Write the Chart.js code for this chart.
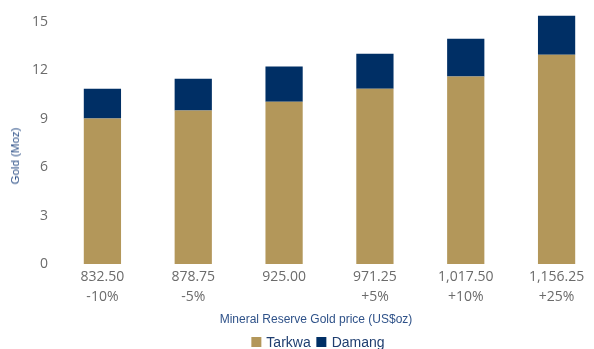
<!DOCTYPE html>
<html>
<head>
<meta charset="utf-8">
<script src="https://cdn.jsdelivr.net/npm/chart.js@4/dist/chart.umd.min.js"></script>
<style>
  html, body { margin: 0; padding: 0; background: #fff; }
  body { width: 594px; height: 349px; overflow: hidden; position: relative; }
  #chart-box { position: absolute; left: 0; top: 0; width: 602px; height: 349px; }
  .axis-title {
    position: absolute;
    font-family: "Liberation Sans", Arial, sans-serif;
    color: #2f5289;
    white-space: nowrap;
  }
  #y-title { left: 15px; top: 156px; font-size: 11.5px; transform: translate(-50%, -50%) rotate(-90deg); }
  #x-title { left: 316px; top: 319px; font-size: 12px; transform: translate(-50%, -50%); }
  #legend {
    position: absolute; left: 318px; top: 342px; transform: translate(-50%, -50%);
    font-family: "Liberation Sans", Arial, sans-serif; font-size: 14px; color: #1f3e70;
    display: flex; align-items: center; white-space: nowrap;
  }
  #legend span.item { display: flex; align-items: center; margin: 0 3px; }
  #legend span.box { width: 10px; height: 10px; margin-right: 5px; display: inline-block; }
</style>
</head>
<body>
<div id="chart-box"><canvas id="reserve-chart"></canvas></div>
<div id="y-title" class="axis-title">Gold (Moz)</div>
<div id="x-title" class="axis-title">Mineral Reserve Gold price (US$oz)</div>
<div id="legend"></div>
<script>
// gold price sensitivity cases
const priceLabels = ['832.50', '878.75', '925.00', '971.25', '1,017.50', '1,156.25'];
const changeLabels = ['-10%', '-5%', '', '+5%', '+10%', '+25%'];

// Mineral Reserve by mine (Moz)
const tarkwaValues = [9.0, 9.5, 10.05, 10.85, 11.6, 12.95];
const damangValues = [1.85, 1.97, 2.17, 2.17, 2.35, 2.42];

const yTicks = [0, 3, 6, 9, 12, 15];

const labels = priceLabels.map((p, i) => changeLabels[i] ? [p, changeLabels[i]] : [p]);

const ctx = document.getElementById('reserve-chart').getContext('2d');
const chart = new Chart(ctx, {
    type: 'bar',
    data: {
        labels: labels,
        datasets: [
            { label: 'Tarkwa', data: tarkwaValues, backgroundColor: '#b3975a' },
            { label: 'Damang', data: damangValues, backgroundColor: '#002f65' }
        ]
    },
    options: {
        responsive: true,
        maintainAspectRatio: false,
        animation: false,
        layout: { padding: { top: 12, right: 0, bottom: 41, left: 0 } },
        datasets: { bar: { barPercentage: 0.41, categoryPercentage: 1.0 } },
        plugins: {
            legend: { display: false },
            tooltip: { enabled: false }
        },
        scales: {
            x: {
                stacked: true,
                // fixed axis band so the plot area stays put
                afterFit: (scale) => {
                    scale.height = 44;
                    scale.paddingLeft = 0;
                    scale.paddingRight = 0;
                },
                grid: { display: false, drawTicks: false },
                border: { display: false },
                ticks: {
                    color: '#6b6b6b',
                    padding: 3,
                    maxRotation: 0,
                    autoSkip: false,
                    font: { family: 'Open Sans', size: 14, lineHeight: 1.43 }
                }
            },
            y: {
                stacked: true,
                min: 0,
                max: 15.6,
                afterBuildTicks: (scale) => { scale.ticks = yTicks.map(v => ({ value: v })); },
                afterFit: (scale) => {
                    scale.width = 57;
                    scale.paddingTop = 0;
                    scale.paddingBottom = 0;
                },
                grid: { display: false, drawTicks: false },
                border: { display: false },
                ticks: {
                    color: '#6b6b6b',
                    padding: 9,
                    font: { family: 'Open Sans', size: 14 }
                }
            }
        }
    }
});

// legend from the chart's own datasets
const legendEl = document.getElementById('legend');
chart.data.datasets.forEach(ds => {
    const item = document.createElement('span');
    item.className = 'item';
    const box = document.createElement('span');
    box.className = 'box';
    box.style.background = ds.backgroundColor;
    item.appendChild(box);
    item.appendChild(document.createTextNode(ds.label));
    legendEl.appendChild(item);
});
</script>
</body>
</html>
